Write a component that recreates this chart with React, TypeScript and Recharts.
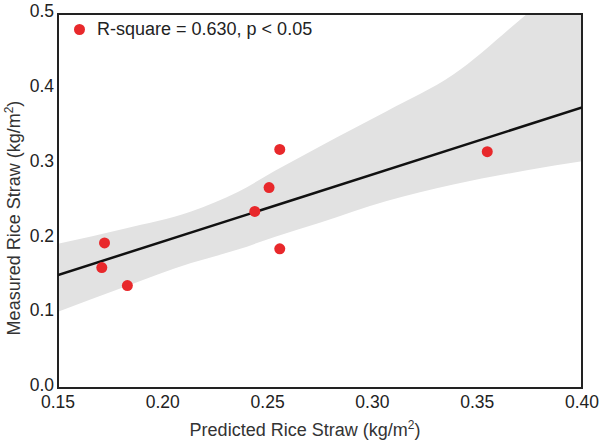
import React from 'react';
import { ComposedChart, Area, Line, Scatter, XAxis, YAxis, ReferenceArea, Label } from 'recharts';

const predicted = [0.1709, 0.1722, 0.1831, 0.2439, 0.2507, 0.2558, 0.2558, 0.3548];
const measured = [0.161, 0.194, 0.137, 0.236, 0.268, 0.186, 0.319, 0.316];

// fitted line
const fitX = [0.15, 0.4];
const fitY = [0.151, 0.375];

// 95% band edges
const bandX = [0.15, 0.1816, 0.2135, 0.2358, 0.2533, 0.2749, 0.3068, 0.3386, 0.3737, 0.4];
const bandLower = [0.102, 0.135, 0.167, 0.185, 0.202, 0.221, 0.25, 0.272, 0.291, 0.303];
const bandUpper = [0.193, 0.213, 0.236, 0.262, 0.29, 0.323, 0.37, 0.419, 0.5, 0.56];

const xTicks = [0.15, 0.2, 0.25, 0.3, 0.35, 0.4];
const yTicks = [0, 0.1, 0.2, 0.3, 0.4, 0.5];

const points = predicted.map((x, i) => ({ x, y: measured[i] }));
const fitData = fitX.map((x, i) => ({ x, fit: fitY[i] }));
const bandData = bandX.map((x, i) => ({ x, band: [bandLower[i], bandUpper[i]] }));

const font = '"Liberation Sans", Arial, sans-serif';
const tickStyle = { fill: '#222', fontSize: 17.5, fontFamily: font };

const YTick = (props: any) => {
  const { x, y, payload } = props;
  return (
    <text x={x} y={y - 3} dy="0.355em" textAnchor="end" fill="#222" fontSize={17.5} fontFamily={font}>
      {Number(payload.value).toFixed(1)}
    </text>
  );
};

const XTitle = (props: any) => {
  const { x, width } = props.viewBox;
  return (
    <text x={x + width / 2 - 15} y={436} textAnchor="middle" fill="#333" fontSize={18} fontFamily={font}>
      Predicted Rice Straw (kg/m<tspan dy={-7} fontSize={12}>2</tspan><tspan dy={7}>)</tspan>
    </text>
  );
};

const YTitle = (props: any) => {
  const { y, height } = props.viewBox;
  const cy = y + height / 2 + 17;
  return (
    <text x={0} y={0} transform={`translate(20, ${cy}) rotate(-90)`} textAnchor="middle" fill="#333" fontSize={18} fontFamily={font}>
      Measured Rice Straw (kg/m<tspan dy={-7} fontSize={12}>2</tspan><tspan dy={7}>)</tspan>
    </text>
  );
};

export default function App() {
  return (
    <div style={{ position: 'absolute', left: 0, top: 0, width: 603, height: 447, background: '#fff' }}>
      <ComposedChart width={603} height={447} margin={{ top: 14, right: 21, left: 0, bottom: 0 }}>
        <XAxis
          type="number"
          dataKey="x"
          domain={[0.15, 0.4]}
          ticks={xTicks}
          tickFormatter={(v: number) => v.toFixed(2)}
          allowDataOverflow
          axisLine={false}
          tickLine={false}
          tickSize={0}
          tickMargin={8}
          tick={tickStyle}
          height={59}
        >
          <Label content={XTitle} />
        </XAxis>
        <YAxis
          type="number"
          dataKey="y"
          domain={[0, 0.5]}
          ticks={yTicks}
          allowDataOverflow
          axisLine={false}
          tickLine={false}
          tickSize={0}
          tickMargin={4}
          tick={<YTick />}
          width={58}
        >
          <Label content={YTitle} />
        </YAxis>
        <Area
          data={bandData}
          dataKey="band"
          type="monotone"
          stroke="none"
          fill="#e2e2e2"
          fillOpacity={1}
          isAnimationActive={false}
        />
        <Line
          data={fitData}
          dataKey="fit"
          type="linear"
          stroke="#111"
          strokeWidth={2.5}
          dot={false}
          activeDot={false}
          isAnimationActive={false}
        />
        <Scatter data={points} dataKey="y" fill="#e8282b" shape={(p: any) => <circle cx={p.cx} cy={p.cy} r={5.5} fill="#e8282b" />} isAnimationActive={false} />
        <ReferenceArea x1={0.15} x2={0.4} y1={0} y2={0.5} fill="none" stroke="#222" strokeWidth={2} />
      </ComposedChart>
      <div
        style={{
          position: 'absolute',
          left: 74,
          top: 19,
          display: 'flex',
          alignItems: 'center',
          fontFamily: font,
          fontSize: 18,
          color: '#222',
          lineHeight: '20px',
        }}
      >
        <span style={{ width: 11, height: 11, borderRadius: '50%', background: '#e8282b', display: 'inline-block', marginRight: 12 }} />
        R-square = 0.630, p &lt; 0.05
      </div>
    </div>
  );
}
